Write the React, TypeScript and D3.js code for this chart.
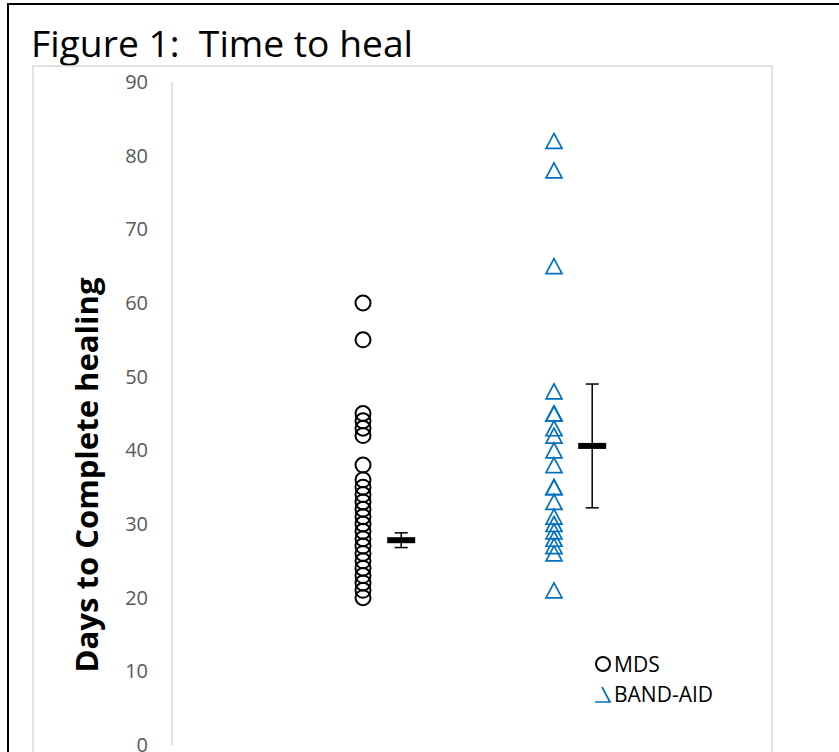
import React, {useEffect, useRef} from 'react';
import * as d3 from 'd3';

const groups = ['MDS', 'BAND-AID'];
const mdsDays = [60, 55, 45, 44, 43, 42, 38, 36, 35, 34, 33, 32, 31, 30, 29, 28, 27, 26, 25, 24, 23, 22, 21, 20];
const bandAidDays = [82, 78, 65, 48, 45, 45, 43, 42, 40, 38, 35, 35, 33, 31, 30, 29, 28, 27, 26, 21];
const groupMeans = [27.8, 40.6];
const groupErrors = [1.0, 8.4];
const yTicks = [0, 10, 20, 30, 40, 50, 60, 70, 80, 90];

const width = 839;
const height = 752;
const fontFamily = "'Open Sans', 'Liberation Sans', sans-serif";
const blue = '#0070C0';

const trianglePath = (x: number, y: number, w: number, h: number) =>
    `M${x},${y - h / 2}L${x + w / 2},${y + h / 2}L${x - w / 2},${y + h / 2}Z`;

const App = () => {
    const svgRef = useRef<SVGSVGElement | null>(null);

    useEffect(() => {
        const svg = d3.select(svgRef.current);
        svg.selectAll('*').remove();

        const yScale = d3.scaleLinear().domain([0, 90]).range([745, 82]);
        const xScale = d3.scaleLinear().domain([0, 3]).range([172, 745]);

        // outer frame (only top/left visible in the crop)
        svg.append('path')
            .attr('d', `M8,${height + 20}L8,4L${width + 20},4`)
            .attr('fill', 'none')
            .attr('stroke', '#000')
            .attr('stroke-width', 2);

        svg.append('text')
            .attr('x', 31)
            .attr('y', 57)
            .attr('font-family', fontFamily)
            .attr('font-size', 36)
            .attr('textLength', 382)
            .attr('lengthAdjust', 'spacingAndGlyphs')
            .style('white-space', 'pre')
            .attr('fill', '#000')
            .text('Figure 1:  Time to heal');

        // chart area box
        svg.append('rect')
            .attr('x', 33)
            .attr('y', 66)
            .attr('width', 739)
            .attr('height', 760)
            .attr('fill', 'none')
            .attr('stroke', '#d9d9d9')
            .attr('stroke-width', 1.5);

        // y axis
        svg.append('line')
            .attr('x1', 172).attr('x2', 172)
            .attr('y1', yScale(90)).attr('y2', yScale(0))
            .attr('stroke', '#d9d9d9')
            .attr('stroke-width', 1.5);

        svg.append('g')
            .selectAll('text')
            .data(yTicks)
            .enter()
            .append('text')
            .attr('x', 148)
            .attr('y', (d) => yScale(d))
            .attr('dy', '0.35em')
            .attr('text-anchor', 'end')
            .attr('font-family', fontFamily)
            .attr('font-size', 20)
            .attr('fill', '#595959')
            .text((d) => d);

        svg.append('text')
            .attr('transform', `translate(87,${475}) rotate(-90)`)
            .attr('text-anchor', 'middle')
            .attr('dy', '0.35em')
            .attr('font-family', fontFamily)
            .attr('font-weight', 'bold')
            .attr('font-size', 30)
            .attr('textLength', 395)
            .attr('lengthAdjust', 'spacingAndGlyphs')
            .attr('fill', '#000')
            .text('Days to Complete healing');

        // MDS points
        svg.append('g')
            .selectAll('circle')
            .data(mdsDays)
            .enter()
            .append('circle')
            .attr('cx', xScale(1))
            .attr('cy', (d) => yScale(d))
            .attr('r', 7.5)
            .attr('fill', 'none')
            .attr('stroke', '#000')
            .attr('stroke-width', 2);

        // BAND-AID points
        svg.append('g')
            .selectAll('path')
            .data(bandAidDays)
            .enter()
            .append('path')
            .attr('d', (d) => trianglePath(xScale(2), yScale(d), 16, 15))
            .attr('fill', 'none')
            .attr('stroke', blue)
            .attr('stroke-width', 1.7);

        // mean +/- error
        const summary = groups.map((g, i) => ({
            x: xScale(i + 1.2),
            mean: groupMeans[i],
            err: groupErrors[i]
        }));
        const sg = svg.append('g').selectAll('g').data(summary).enter().append('g');
        sg.append('line')
            .attr('x1', (d) => d.x).attr('x2', (d) => d.x)
            .attr('y1', (d) => yScale(d.mean + d.err))
            .attr('y2', (d) => yScale(d.mean - d.err))
            .attr('stroke', '#000').attr('stroke-width', 1.5);
        [1, -1].forEach((s) => {
            sg.append('line')
                .attr('x1', (d) => d.x - 6.5).attr('x2', (d) => d.x + 6.5)
                .attr('y1', (d) => yScale(d.mean + s * d.err))
                .attr('y2', (d) => yScale(d.mean + s * d.err))
                .attr('stroke', '#000').attr('stroke-width', 1.5);
        });
        sg.append('rect')
            .attr('x', (d) => d.x - 14)
            .attr('y', (d) => yScale(d.mean) - 3)
            .attr('width', 28)
            .attr('height', 6)
            .attr('fill', '#000');

        // legend
        const lg = svg.append('g').attr('transform', 'translate(603,0)');
        lg.append('circle')
            .attr('cx', 0).attr('cy', 664).attr('r', 7)
            .attr('fill', 'none').attr('stroke', '#000').attr('stroke-width', 2);
        lg.append('path')
            .attr('d', 'M-1,687L7,702L-8,702')
            .attr('fill', 'none').attr('stroke', blue).attr('stroke-width', 1.7);
        lg.selectAll('text')
            .data(groups)
            .enter()
            .append('text')
            .attr('x', 11)
            .attr('y', (d, i) => 672 + i * 30)
            .attr('font-family', fontFamily)
            .attr('font-size', 21)
            .attr('fill', '#000')
            .text((d) => d);
    }, []);

    return (
        <svg ref={svgRef} width={width} height={height}
             style={{position: 'absolute', left: 0, top: 0, background: '#fff'}}/>
    );
};

export default App;
